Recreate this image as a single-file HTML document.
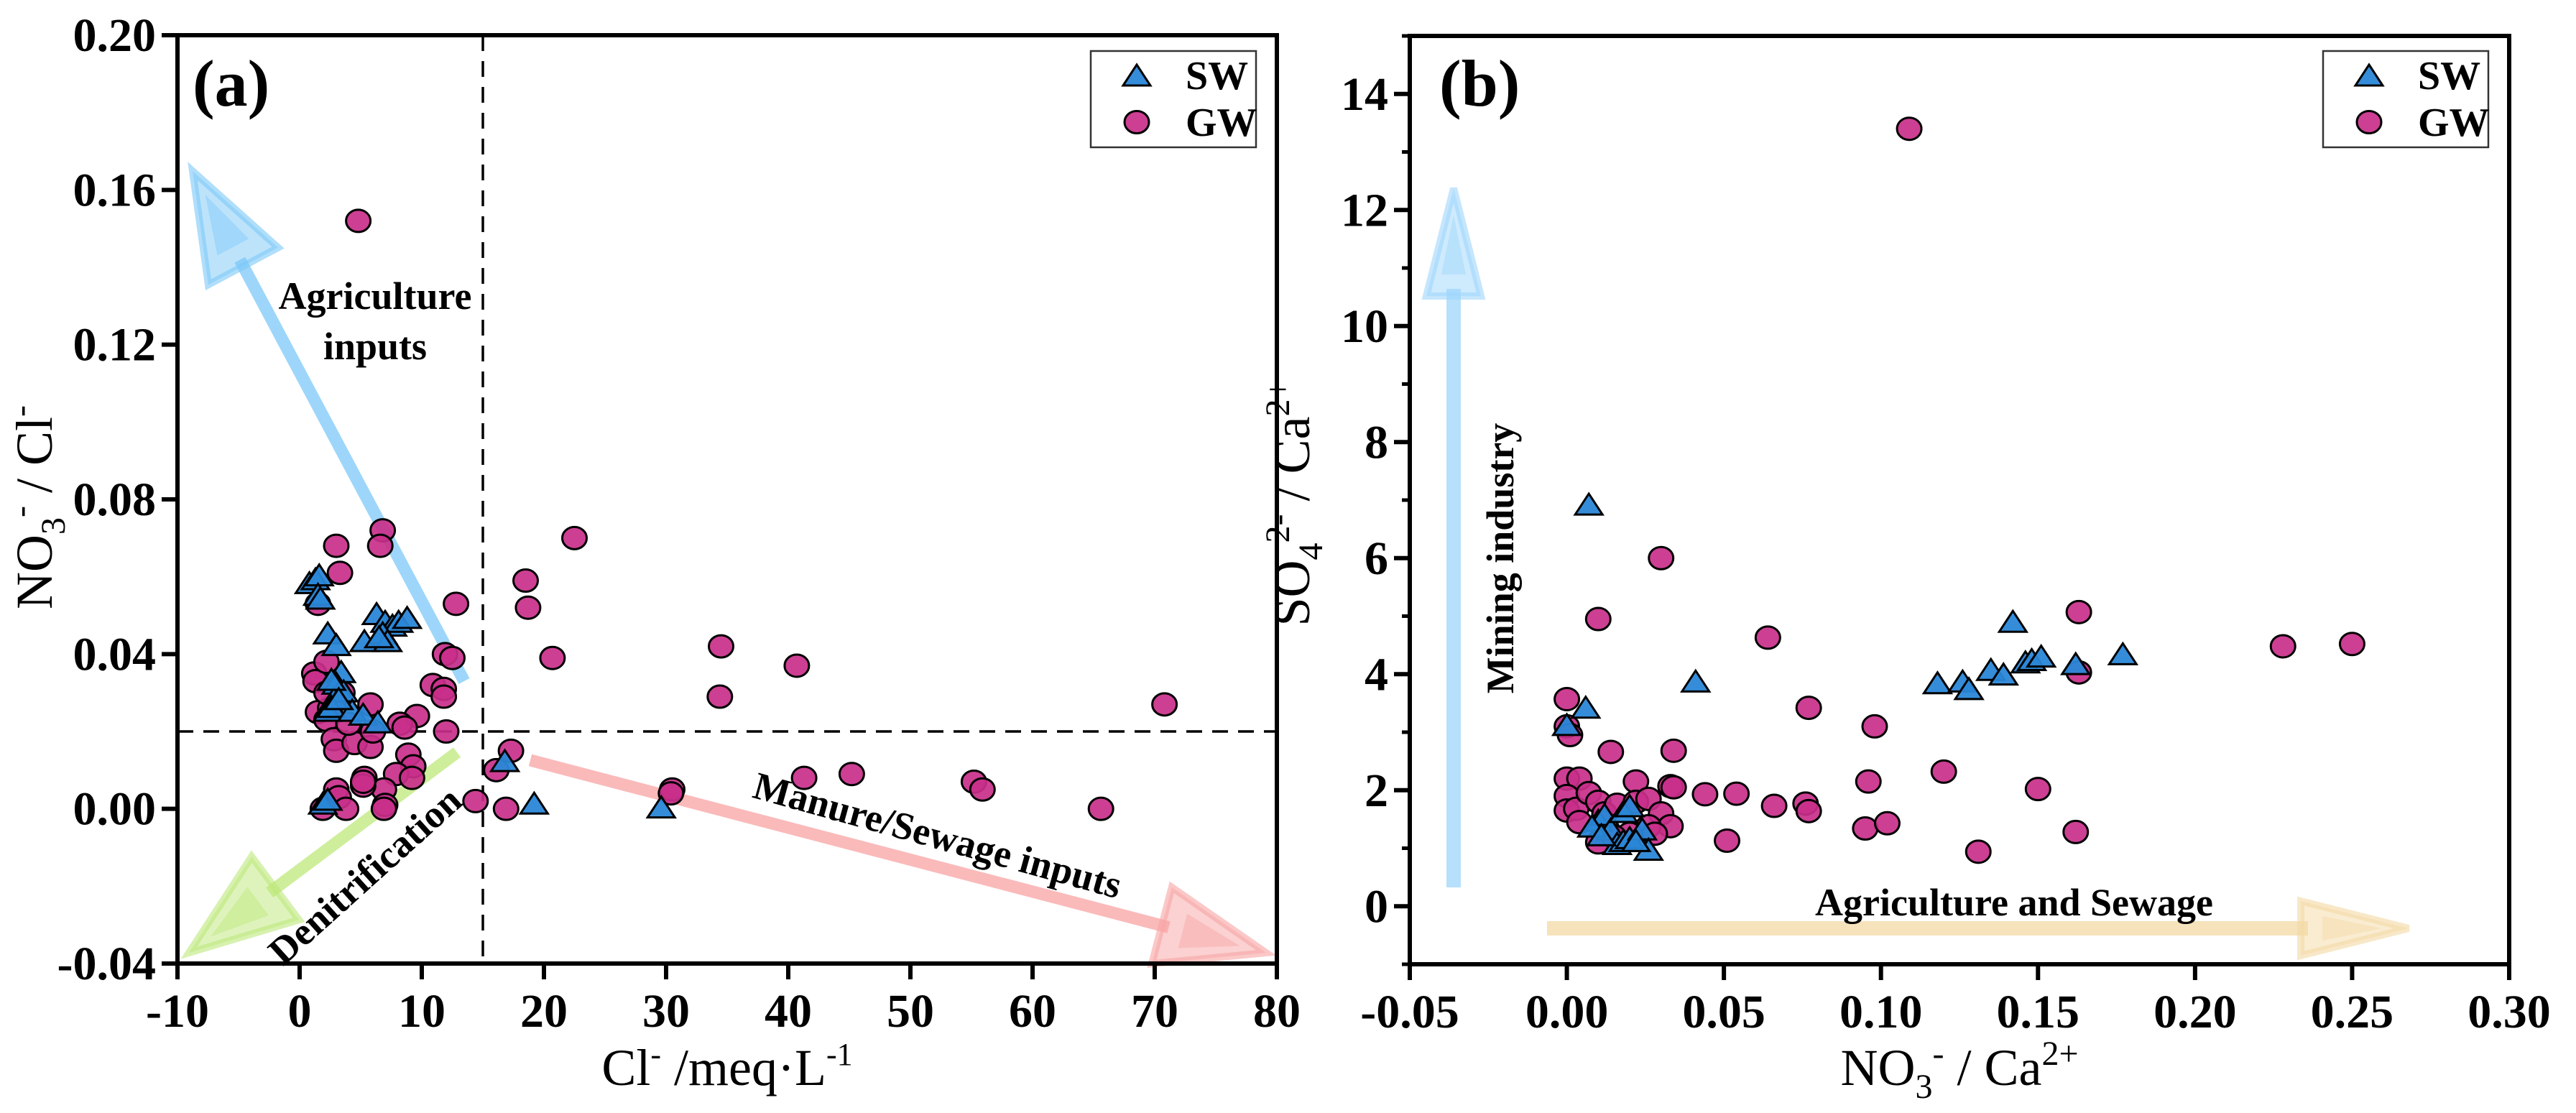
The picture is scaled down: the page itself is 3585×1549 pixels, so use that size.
<!DOCTYPE html>
<html><head><meta charset="utf-8">
<style>
html,body{margin:0;padding:0;background:#fff;}
svg{display:block;font-family:"Liberation Serif","DejaVu Serif",serif;}
.tk{font-size:66px;font-weight:bold;}
.ann{font-size:54px;font-weight:bold;}
.ttl{font-size:72px;}
</style></head>
<body>
<svg id="chart" width="3585" height="1549" viewBox="0 0 3585 1549" xmlns="http://www.w3.org/2000/svg">
<g id="pa"></g>
<g id="pb"></g>
</svg>
<script>
// ---------- Panel (a) data ----------
const aXTicks = [-10,0,10,20,30,40,50,60,70,80];
const aYTicks = [-0.04,0.00,0.04,0.08,0.12,0.16,0.20];
const aYTickLabels = ["-0.04","0.00","0.04","0.08","0.12","0.16","0.20"];
const aGWx = [4.8,6.8,6.6,3.0,3.3,12.8,18.5,18.7,22.5,20.7,34.5,34.4,40.7,41.3,45.2,55.2,55.9,65.6,70.8,30.5,30.4,17.3,16.1,16.9,14.4,11.9,12.5,10.9,11.8,11.8,12.0,9.6,8.2,8.6,8.9,9.3,7.9,9.2,6.9,7.0,6.9,5.3,5.2,5.2,3.0,3.2,1.9,3.8,1.2,1.3,2.2,1.5,2.2,2.8,3.0,4.5,5.8,6.0,5.8,3.5,2.5,4.0,2.2,1.5];
const aGWy = [0.152,0.072,0.068,0.068,0.061,0.053,0.059,0.052,0.070,0.039,0.042,0.029,0.037,0.008,0.009,0.007,0.005,0.000,0.027,0.005,0.004,0.015,0.010,0.000,0.002,0.040,0.039,0.032,0.031,0.029,0.020,0.024,0.022,0.021,0.014,0.011,0.009,0.008,0.005,0.001,0.000,0.008,0.006,0.007,0.005,0.003,0.000,0.000,0.035,0.033,0.038,0.025,0.023,0.018,0.015,0.017,0.016,0.020,0.027,0.030,0.026,0.022,0.030,0.053];
const aSWx = [0.8,1.3,1.6,1.5,1.7,2.3,3.0,6.3,7.0,7.6,8.1,8.8,5.3,6.8,7.2,6.5,3.4,3.0,3.3,2.8,3.6,2.3,2.6,4.3,5.2,6.4,1.9,2.3,16.8,19.2,29.6,2.6,3.2];
const aSWy = [0.058,0.059,0.060,0.055,0.054,0.045,0.042,0.050,0.048,0.047,0.048,0.049,0.043,0.045,0.043,0.044,0.035,0.032,0.030,0.028,0.030,0.025,0.026,0.025,0.024,0.022,0.001,0.002,0.012,0.001,0.000,0.033,0.028];

// ---------- Panel (b) data ----------
const bXTicks = [-0.05,0.00,0.05,0.10,0.15,0.20,0.25,0.30];
const bXTickLabels = ["-0.05","0.00","0.05","0.10","0.15","0.20","0.25","0.30"];
const bYTicks = [0,2,4,6,8,10,12,14];
const bYMinor = [-1,1,3,5,7,9,11,13,15];
const bGWx = [0.109,0.030,0.010,0.064,0.163,0.163,0.228,0.250,0.0,0.0,0.001,0.077,0.098,0.014,0.034,0.033,0.034,0.044,0.054,0.066,0.076,0.077,0.096,0.120,0.150,0.051,0.095,0.102,0.131,0.162,0.0,0.004,0.0,0.0,0.003,0.004,0.007,0.010,0.012,0.016,0.022,0.022,0.026,0.030,0.033,0.026,0.028,0.010,0.020,0.015];
const bGWy = [13.4,6.0,4.95,4.63,5.07,4.03,4.48,4.52,3.57,3.1,2.95,3.42,3.1,2.66,2.68,2.07,2.05,1.93,1.94,1.73,1.77,1.64,2.15,2.32,2.02,1.13,1.34,1.43,0.94,1.28,2.2,2.2,1.9,1.65,1.68,1.45,1.95,1.8,1.6,1.75,2.15,1.8,1.85,1.6,1.38,1.38,1.25,1.1,1.25,1.2];
const bSWx = [0.007,0.006,0.000,0.041,0.118,0.126,0.128,0.135,0.139,0.142,0.146,0.148,0.151,0.162,0.177,0.010,0.012,0.014,0.018,0.020,0.016,0.018,0.020,0.024,0.026,0.008,0.011,0.022];
const bSWy = [6.9,3.4,3.1,3.85,3.82,3.85,3.72,4.05,3.97,4.88,4.18,4.22,4.28,4.15,4.32,1.45,1.55,1.3,1.6,1.7,1.05,1.1,1.15,1.3,0.95,1.35,1.2,1.1];

const NS = "http://www.w3.org/2000/svg";
function mk(parent, tag, attrs, text){
  const e = document.createElementNS(NS, tag);
  for (const k in attrs) e.setAttribute(k, attrs[k]);
  if (text !== undefined) e.textContent = text;
  parent.appendChild(e);
  return e;
}
const GW_FILL = "#c92f8a", SW_FILL = "#2a87d8";

function circle(g, cx, cy){
  const c = mk(g, "ellipse", {cx:cx, cy:cy, rx:17, ry:15.5, fill:GW_FILL, "fill-opacity":0.92, stroke:"#000", "stroke-width":3});
  
  
}
function tri(g, cx, cy){
  const p = mk(g, "polygon", {points:`${cx},${cy-17} ${cx-19},${cy+12} ${cx+19},${cy+12}`, fill:SW_FILL, "fill-opacity":0.95, stroke:"#000", "stroke-width":3, "stroke-linejoin":"miter"});
  
  
}
function arrow(g, x1, y1, x2, y2, color, w, hl, hw, name){
  const grp = mk(g, "g", {});
  
  
  const dx = x2-x1, dy = y2-y1, L = Math.hypot(dx,dy), ux = dx/L, uy = dy/L, nx = -uy, ny = ux;
  const bx = x2-ux*hl, by = y2-uy*hl;
  mk(grp, "line", {x1:x1, y1:y1, x2:bx+ux*10, y2:by+uy*10, stroke:color, "stroke-width":w, "stroke-opacity":0.75});
  mk(grp, "polygon", {points:`${x2},${y2} ${bx+nx*hw},${by+ny*hw} ${bx-nx*hw},${by-ny*hw}`, fill:color, "fill-opacity":0.5, stroke:color, "stroke-width":10, "stroke-opacity":0.6, "stroke-linejoin":"miter"});
  const bx2 = x2-ux*hl*0.8, by2 = y2-uy*hl*0.8;
  mk(grp, "polygon", {points:`${x2-ux*hl*0.25},${y2-uy*hl*0.25} ${bx2+nx*hw*0.45},${by2+ny*hw*0.45} ${bx2-nx*hw*0.45},${by2-ny*hw*0.45}`, fill:color, "fill-opacity":0.45});
}
function legend(g, x, y){
  const lg = mk(g, "g", {});
  
  
  mk(lg, "rect", {x:x, y:y, width:230, height:134, fill:"#fff", stroke:"#333", "stroke-width":2.5});
  const e1 = mk(lg, "g", {});
  
  
  tri(e1, x+64, y+36);
  mk(e1, "text", {x:x+132, y:y+53, "font-size":56, "font-weight":"bold"}, "SW");
  const e2 = mk(lg, "g", {});
  
  
  circle(e2, x+64, y+99);
  mk(e2, "text", {x:x+132, y:y+118, "font-size":56, "font-weight":"bold"}, "GW");
}

// ---------------- Panel A ----------------
(function(){
  const g = document.getElementById("pa");
  const L=247, R=1777, T=49, B=1341;
  const xMin=-10, xMax=80, yMin=-0.04, yMax=0.20;
  const sx = v => L + (v-xMin)/(xMax-xMin)*(R-L);
  const sy = v => B - (v-yMin)/(yMax-yMin)*(B-T);
  const d1 = mk(g, "line", {x1:sx(15), y1:T, x2:sx(15), y2:B, stroke:"#000", "stroke-width":3.5, "stroke-dasharray":"22 14"});
  
  
  const d2 = mk(g, "line", {x1:L, y1:sy(0.02), x2:R, y2:sy(0.02), stroke:"#000", "stroke-width":3.5, "stroke-dasharray":"22 14"});
  
  
  arrow(g, 646, 948, 268, 238, "#7cc8f8", 17, 150, 55, "agriculture-arrow");
  arrow(g, 636, 1047, 263, 1326, "#bde87a", 17, 150, 55, "denitrification-arrow");
  arrow(g, 738, 1058, 1762, 1326, "#f8a3a3", 17, 150, 55, "manure-sewage-arrow");
  for (let i=0;i<aGWx.length;i++) circle(g, sx(aGWx[i]), sy(aGWy[i]));
  for (let i=0;i<aSWx.length;i++) tri(g, sx(aSWx[i]), sy(aSWy[i]));
  const a1 = mk(g, "text", {x:522, y:430, "text-anchor":"middle", class:"ann"}, "Agriculture");
   
  const a2 = mk(g, "text", {x:522, y:500, "text-anchor":"middle", class:"ann"}, "inputs");
   
  const a3 = mk(g, "text", {x:0, y:0, "text-anchor":"middle", class:"ann", transform:"translate(520,1232) rotate(-42)"}, "Denitrification");
   
  const a4 = mk(g, "text", {x:0, y:0, "text-anchor":"middle", class:"ann", transform:"translate(1300,1180) rotate(15.5)"}, "Manure/Sewage inputs");
   
  const fr = mk(g, "rect", {x:L, y:T, width:R-L, height:B-T, fill:"none", stroke:"#000", "stroke-width":6});
   
  const xa = mk(g, "g", {});  
  aXTicks.forEach(v => {
    mk(xa, "line", {x1:sx(v), y1:B, x2:sx(v), y2:B+22, stroke:"#000", "stroke-width":6});
    mk(xa, "text", {x:sx(v), y:B+88, "text-anchor":"middle", class:"tk"}, String(v));
  });
  const ya = mk(g, "g", {});  
  aYTicks.forEach((v,i) => {
    mk(ya, "line", {x1:L-22, y1:sy(v), x2:L, y2:sy(v), stroke:"#000", "stroke-width":6});
    mk(ya, "text", {x:L-30, y:sy(v)+22, "text-anchor":"end", class:"tk"}, aYTickLabels[i]);
  });
  const xt = mk(g, "text", {x:1012, y:1510, "text-anchor":"middle", class:"ttl"});
   
  xt.innerHTML = 'Cl<tspan dy="-28" font-size="44">-</tspan><tspan dy="28"> /meq·L</tspan><tspan dy="-28" font-size="44">-1</tspan>';
  const yt = mk(g, "text", {x:0, y:0, "text-anchor":"middle", class:"ttl", transform:"translate(72,706) rotate(-90)"});
   
  yt.innerHTML = 'NO<tspan dy="18" font-size="48">3</tspan><tspan dy="-46" font-size="48">-</tspan><tspan dy="28"> / Cl</tspan><tspan dy="-28" font-size="48">-</tspan>';
  const pl = mk(g, "text", {x:268, y:147, "font-size":92, "font-weight":"bold"}, "(a)");
   
  legend(g, 1518, 71);
})();

// ---------------- Panel B ----------------
(function(){
  const g = document.getElementById("pb");
  const L=1962, R=3492, T=50, B=1342;
  const xMin=-0.05, xMax=0.30, yMin=-1, yMax=15;
  const sx = v => L + (v-xMin)/(xMax-xMin)*(R-L);
  const sy = v => B - (v-yMin)/(yMax-yMin)*(B-T);
  arrow(g, 2023, 1235, 2023, 262, "#9ed6fb", 20, 150, 38, "mining-arrow");
  arrow(g, 2153, 1292, 3352, 1292, "#f3d9a4", 20, 150, 38, "agriculture-sewage-arrow");
  for (let i=0;i<bGWx.length;i++) circle(g, sx(bGWx[i]), sy(bGWy[i]));
  for (let i=0;i<bSWx.length;i++) tri(g, sx(bSWx[i]), sy(bSWy[i]));
  const a1 = mk(g, "text", {x:0, y:0, "text-anchor":"middle", class:"ann", transform:"translate(2106,777) rotate(-90)"}, "Mining industry");
   
  const a2 = mk(g, "text", {x:2803, y:1274, "text-anchor":"middle", class:"ann"}, "Agriculture and Sewage");
   
  const fr = mk(g, "rect", {x:L, y:T, width:R-L, height:B-T, fill:"none", stroke:"#000", "stroke-width":6});
   
  const xa = mk(g, "g", {});  
  bXTicks.forEach((v,i) => {
    mk(xa, "line", {x1:sx(v), y1:B, x2:sx(v), y2:B+22, stroke:"#000", "stroke-width":6});
    mk(xa, "text", {x:sx(v), y:B+88, "text-anchor":"middle", class:"tk"}, bXTickLabels[i]);
  });
  const ya = mk(g, "g", {});  
  bYTicks.forEach(v => {
    mk(ya, "line", {x1:L-22, y1:sy(v), x2:L, y2:sy(v), stroke:"#000", "stroke-width":6});
    mk(ya, "text", {x:L-30, y:sy(v)+22, "text-anchor":"end", class:"tk"}, String(v));
  });
  bYMinor.forEach(v => {
    mk(ya, "line", {x1:L-11, y1:sy(v), x2:L, y2:sy(v), stroke:"#000", "stroke-width":5});
  });
  const xt = mk(g, "text", {x:2727, y:1510, "text-anchor":"middle", class:"ttl"});
   
  xt.innerHTML = 'NO<tspan dy="18" font-size="48">3</tspan><tspan dy="-46" font-size="48">-</tspan><tspan dy="28"> / Ca</tspan><tspan dy="-28" font-size="48">2+</tspan>';
  const yt = mk(g, "text", {x:0, y:0, "text-anchor":"middle", class:"ttl", transform:"translate(1822,700) rotate(-90)"});
   
  yt.innerHTML = 'SO<tspan dy="18" font-size="48">4</tspan><tspan dy="-46" font-size="48">2-</tspan><tspan dy="28"> / Ca</tspan><tspan dy="-28" font-size="48">2+</tspan>';
  const pl = mk(g, "text", {x:2003, y:147, "font-size":92, "font-weight":"bold"}, "(b)");
   
  legend(g, 3233, 71);
})();
</script>
</body></html>
